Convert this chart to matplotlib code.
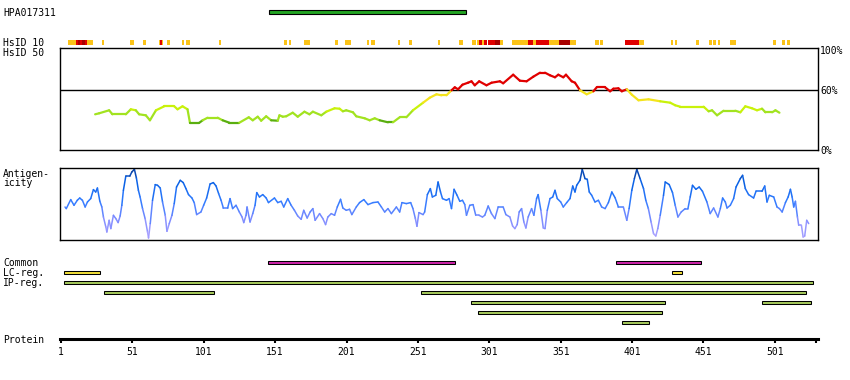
import numpy as np
import matplotlib
matplotlib.use('Agg')
import matplotlib.pyplot as plt
from matplotlib.collections import LineCollection
from matplotlib.colors import BoundaryNorm, ListedColormap, LinearSegmentedColormap, Normalize

plt.rcParams['font.family'] = ['DejaVu Sans Mono', 'DejaVu Sans']
plt.rcParams['font.size'] = 7

# ---- data (residue positions) ----
protein_len = 530
tick_pos = [1, 51, 101, 151, 201, 251, 301, 351, 401, 451, 501]

hpa_start, hpa_end = 147, 285

# HsID 10 identity strip: (start, end) per colour class
id10_yellow = [(5.9, 11.5), (19.2, 23.5), (29.8, 31.2), (49.4, 52.2), (58.5, 60.4), (69.8, 70.5),
               (71.9, 72.6), (75.4, 77.5), (85.9, 87.3), (88.7, 91.5), (111.9, 113.3), (157.5, 159.6),
               (161.0, 162.4), (171.5, 175.7), (192.6, 194.7), (199.6, 203.8), (215.0, 216.4),
               (217.8, 220.6), (236.8, 238.2), (244.5, 246.6), (264.9, 266.3), (279.6, 282.4),
               (288.7, 291.5), (292.2, 293.6), (295.7, 297.1), (308.4, 310.5), (316.8, 328.0),
               (331.5, 333.6), (342.8, 349.8), (357.5, 361.7), (375.0, 377.8), (378.5, 380.6),
               (405.9, 409.4), (428.4, 429.8), (431.2, 432.6), (445.9, 448.0), (455.0, 457.1),
               (457.8, 459.9), (461.4, 462.8), (469.8, 474.0), (500.0, 502.1), (506.3, 508.4),
               (509.8, 511.9)]
id10_red = [(11.5, 19.2), (70.5, 71.9), (293.6, 295.7), (297.1, 299.2), (299.9, 304.9),
            (328.0, 331.5), (333.6, 342.8), (396.1, 405.9)]
id10_dark = [(13.0, 14.0), (16.0, 17.5), (304.9, 308.4), (349.8, 357.5)]

# HsID 50 identity (%)
hsid50_pos = [24.9, 27.7, 34.7, 37.0, 46.4, 49.9, 53.4, 55.7, 60.4, 63.3, 67.5, 73.3, 80.3, 82.6,
              86.1, 89.6, 91.3, 97.9, 100.2, 103.7, 110.7, 114.2, 118.9, 125.9, 132.5, 135.3, 138.8,
              141.2, 144.7, 148.2, 152.8, 154.0, 156.3, 158.7, 163.3, 166.8, 171.5, 175.0, 177.4,
              183.3, 186.8, 192.6, 196.1, 198.4, 200.8, 205.5, 207.8, 213.7, 217.2, 220.7, 224.2,
              230.0, 233.5, 238.2, 242.9, 247.5, 254.6, 259.3, 264.0, 267.5, 271.0, 274.5, 276.8,
              279.1, 282.2, 286.1, 288.5, 290.8, 293.9, 299.0, 302.6, 308.4, 310.7, 317.7, 322.4,
              327.1, 331.8, 336.5, 340.0, 343.5, 347.0, 349.3, 352.8, 354.7, 358.7, 361.0, 364.5,
              369.2, 373.9, 376.2, 382.1, 385.6, 387.9, 391.4, 393.8, 397.3, 400.8, 405.5, 412.5,
              420.7, 427.7, 431.2, 434.7, 451.1, 454.6, 457.0, 460.5, 465.1, 473.3, 476.8, 480.3,
              485.0, 488.5, 492.0, 494.4, 499.1, 501.4, 504.2]
hsid50_val = [36, 37, 40, 36, 36, 41, 40, 36, 35, 30, 40, 44, 44, 41, 44, 41, 27.6, 27.6, 30, 32.6,
              32.6, 30, 27.6, 27.6, 33, 30, 33.6, 29.6, 34, 30, 29.6, 35, 33.6, 34, 37.6, 33.6, 38.6,
              36, 38.6, 35, 38.6, 42, 41.6, 39, 40, 38, 34, 32, 30, 32, 30, 28, 28, 33, 33, 40, 47.6,
              52.6, 56, 55, 55, 60, 63, 61, 65.6, 67.6, 69, 65, 69, 65, 67.6, 69, 67, 75.6, 69.6, 69,
              73.6, 77.6, 77.6, 75, 73, 75.6, 73, 75.6, 69, 67.6, 60, 56, 59, 63, 63, 59, 61.6, 62, 59,
              61, 55.6, 50, 51, 49, 47.6, 45, 43.6, 43.6, 39, 40, 35, 39.6, 39.6, 38, 44, 42, 40, 41.6,
              38, 38, 40, 37.6]

# antigenicity score
ant_pos = [3.8, 4.7, 7.8, 10.1, 12.4, 14.1, 16.0, 17.9, 19.5, 21.8,
           23.7, 25.3, 26.5, 28.2, 29.6, 30.7, 32.4, 33.1, 34.7, 35.9,
           37.7, 39.4, 41.0, 42.4, 43.6, 44.7, 46.4, 49.2, 50.6, 52.4,
           53.8, 55.2, 56.4, 58.1, 59.9, 61.6, 62.3, 63.5, 65.1, 67.0,
           68.6, 70.5, 72.1, 74.0, 75.2, 76.8, 78.7, 80.3, 81.9, 84.5,
           86.6, 88.5, 90.3, 92.7, 94.3, 96.0, 99.0, 100.9, 103.0, 105.4,
           107.7, 109.6, 111.4, 113.1, 114.7, 117.7, 119.4, 121.2, 123.6, 125.9,
           127.8, 129.0, 130.6, 131.3, 133.4, 135.3, 136.9, 138.1, 140.0, 142.3,
           144.7, 146.3, 150.5, 152.8, 155.2, 157.0, 159.8, 162.2, 164.5, 166.8,
           169.2, 171.0, 173.4, 175.5, 177.4, 179.0, 182.1, 184.4, 186.3, 187.9,
           190.3, 192.6, 194.5, 196.8, 198.4, 200.8, 203.1, 204.7, 207.8, 210.1,
           213.1, 216.0, 219.5, 223.0, 225.4, 227.7, 230.0, 232.4, 235.9, 238.2,
           239.8, 242.9, 245.9, 247.5, 249.2, 250.3, 251.7, 254.6, 255.7, 257.6,
           259.7, 261.1, 263.5, 265.1, 266.8, 268.2, 271.0, 272.8, 274.5, 276.3,
           278.4, 280.3, 282.2, 283.8, 285.0, 287.3, 289.6, 291.5, 293.8, 296.2,
           297.8, 300.2, 302.5, 304.9, 307.2, 310.7, 312.6, 315.4, 317.3, 318.9,
           320.5, 321.9, 323.6, 325.2, 326.6, 328.2, 330.6, 332.2, 334.1, 335.2,
           337.1, 338.8, 340.0, 341.6, 343.5, 345.4, 347.0, 348.6, 351.0, 352.8,
           355.2, 357.5, 359.4, 361.0, 362.2, 364.5, 366.1, 368.0, 369.6, 371.0,
           372.7, 375.0, 377.4, 379.7, 382.1, 384.4, 386.8, 389.1, 391.4, 394.9,
           397.3, 398.9, 400.8, 402.6, 404.3, 406.6, 409.0, 410.6, 412.4, 414.3,
           416.0, 417.6, 419.0, 420.7, 423.0, 424.2, 427.0, 429.3, 431.2, 433.1,
           435.4, 438.2, 440.1, 441.7, 443.3, 445.7, 448.0, 450.3, 453.4, 455.7,
           458.1, 461.1, 462.8, 464.4, 466.3, 467.5, 469.8, 472.1, 473.8, 476.8,
           478.4, 480.3, 482.6, 486.1, 487.8, 492.0, 493.9, 495.5, 497.1, 500.2,
           502.5, 504.2, 506.1, 508.4, 510.3, 511.9, 513.1, 514.2, 515.4, 516.8,
           517.7, 519.6, 520.8, 521.9, 523.3, 524.7]
ant_val = [33.3, 31.7, 40.7, 35, 40, 42.3, 40, 33.3, 38.3, 41.7,
           50.7, 48.3, 52.3, 39, 33.3, 23.3, 13.3, 8.3, 20, 11.7,
           25, 21.7, 17.7, 24.3, 35, 50, 64.3, 64.3, 68.3, 71,
           62.3, 50, 43.3, 31.7, 21.7, 8.3, 2.3, 16.7, 40, 55.7,
           55, 52.3, 38.3, 25, 9, 16.7, 25, 36.7, 53.3, 60,
           57.7, 51.7, 45.7, 42.3, 37.7, 25.7, 28.3, 35, 42.3, 56.3,
           57.7, 54.3, 46.7, 40, 32.3, 32.3, 41.7, 31.7, 35, 28.3,
           23.3, 17.7, 25, 33.3, 18.3, 26.7, 35, 47.7, 43.3, 45.7,
           42.3, 37.7, 42.3, 37.7, 39, 33.3, 41.7, 35, 30, 24.3,
           21, 30, 22.3, 28.3, 31.7, 20, 26.7, 21.7, 15.7, 23.3,
           26.7, 25, 33.3, 41, 32.3, 30, 31, 25.7, 33.3, 37.7,
           40.7, 35.7, 37.7, 38.3, 33.3, 28.3, 31.7, 26.7, 33.3, 28.3,
           37.7, 36.7, 37.7, 31.7, 21.7, 14, 27.7, 25.7, 28.3, 45.7,
           51.7, 43.3, 45, 58.3, 48.3, 41.7, 40, 41.7, 31.7, 51,
           45, 39, 40, 35.7, 25, 35, 35.7, 25, 25, 23.3,
           25, 34.3, 26.7, 21.7, 33.3, 33.3, 25.7, 23.3, 14.3, 11.7,
           15.7, 28.3, 31.7, 18.3, 12.3, 23.3, 31.7, 25, 41.7, 45.7,
           30, 12.3, 11.7, 30, 41.7, 43.3, 50, 41.7, 38.3, 33.3,
           37.7, 41.7, 54.3, 48.3, 55, 60, 71, 61.7, 61, 48.3,
           45, 38.3, 40, 33.3, 31.7, 37.7, 48.3, 42.5, 33.3, 33.3,
           20, 31.7, 50, 61.7, 71, 61.7, 51.7, 40, 31.7, 18.3,
           6.7, 4.3, 11.7, 25, 45, 58.3, 55.7, 47.7, 35, 23.3,
           28.3, 31.7, 31.7, 43.3, 55, 51, 53.3, 49, 38.3, 26.7,
           32.3, 23.3, 31.7, 42.3, 38.3, 32.3, 35, 41.7, 53.3, 61.7,
           65, 51.7, 45.7, 42.3, 49, 49, 54.3, 38.3, 45, 43.3,
           33.3, 31.7, 28.3, 37.7, 43.3, 51, 43.3, 33.3, 39, 23.3,
           15, 15, 3.3, 4.3, 20, 16.7]

# feature tracks
common_start = [146, 390]
common_end = [277, 449]
lc_start = [3, 429]
lc_end = [28, 436]
ip_start = [3, 31, 253, 288, 492, 293, 394]
ip_end = [528, 108, 523, 424, 526, 422, 413]
ip_row = [2, 3, 3, 4, 4, 5, 6]

# ---- layout ----
W, H = 850, 380
L0, R0 = 60.3, 817.7
XLIM = (0.5, 531)

fig = plt.figure(figsize=(W / 100, H / 100), dpi=100)
fig.patch.set_facecolor('white')


def add_ax(top, bottom):
    ax = fig.add_axes([L0 / W, 1 - bottom / H, (R0 - L0) / W, (bottom - top) / H])
    ax.set_xlim(*XLIM)
    ax.set_xticks([])
    ax.set_yticks([])
    return ax


def hide_spines(ax):
    for s in ax.spines.values():
        s.set_visible(False)


def colored_line(ax, x, y, cmap, norm, lw):
    x = np.asarray(x, float)
    y = np.asarray(y, float)
    pts = np.column_stack([x, y]).reshape(-1, 1, 2)
    segs = np.concatenate([pts[:-1], pts[1:]], axis=1)
    lc = LineCollection(segs, cmap=cmap, norm=norm, linewidths=lw, capstyle='round')
    lc.set_array((y[:-1] + y[1:]) / 2)
    ax.add_collection(lc)


def label(x, baseline, s, **kw):
    fig.text(x / W, 1 - baseline / H, s, va='baseline', ha='left', color='black', **kw)


# HPA antigen bar
ax = add_ax(8, 16)
hide_spines(ax)
ax.set_ylim(-1, 1)
ax.barh(0, hpa_end - hpa_start, left=hpa_start, height=0.8, color='#23a523',
        edgecolor='black', linewidth=0.8)

# HsID 10 strip
ax = add_ax(40, 45)
hide_spines(ax)
ax.set_ylim(0, 1)
for segs, col in [(id10_yellow, '#fbc318'), (id10_red, '#e00000'), (id10_dark, '#a80000')]:
    ax.broken_barh([(a, b - a) for a, b in segs], (0, 1), facecolors=col, linewidth=0)

# HsID 50 panel
ax = add_ax(48.3, 150.3)
ax.set_ylim(0, 102)
for s in ax.spines.values():
    s.set_linewidth(1.0)
ax.axhline(60, color='black', lw=1.0)
id_cmap = ListedColormap(['#5aae10', '#a2e320', '#c9f20a', '#f4e41c', '#e00000'])
id_norm = BoundaryNorm([0, 30, 40, 50, 60, 100], id_cmap.N)
colored_line(ax, hsid50_pos, hsid50_val, id_cmap, id_norm, 1.6)
ax.yaxis.tick_right()
ax.set_yticks([0, 60, 100])
ax.set_yticklabels(['0%', '60%', '100%'])
ax.tick_params(axis='y', length=0, pad=1.8, labelsize=7)

# antigenicity panel
ax = add_ax(168.3, 240.3)
ax.set_ylim(0, 72)
for s in ax.spines.values():
    s.set_linewidth(1.0)
ag_cmap = LinearSegmentedColormap.from_list(
    'ag', [(0, '#b9a9ff'), (0.3, '#7e8cff'), (0.55, '#2f7bff'), (0.8, '#0a62e6'), (1, '#0a3c98')])
colored_line(ax, ant_pos, ant_val, ag_cmap, Normalize(0, 72), 1.1)

# feature tracks
ax = add_ax(257.3, 327.3)
hide_spines(ax)
ax.set_ylim(6.5, -0.5)
bh = 0.33
ax.barh([0] * len(common_start), np.subtract(common_end, common_start), left=common_start,
        height=bh, color='#cc25aa', edgecolor='black', linewidth=0.75)
ax.barh([1] * len(lc_start), np.subtract(lc_end, lc_start), left=lc_start,
        height=bh, color='#f2e03a', edgecolor='black', linewidth=0.75)
ax.barh(ip_row, np.subtract(ip_end, ip_start), left=ip_start,
        height=bh, color='#a6c95c', edgecolor='black', linewidth=0.75)

# protein ruler
ax = fig.add_axes([L0 / W, 1 - 339.3 / H, (R0 - L0) / W, 4 / H])
ax.set_xlim(*XLIM)
for k in ['top', 'left', 'right']:
    ax.spines[k].set_visible(False)
ax.spines['bottom'].set_linewidth(2.2)
ax.set_yticks([])
ax.set_xticks(tick_pos + [protein_len])
ax.set_xticklabels([str(t) for t in tick_pos] + [''])
ax.tick_params(axis='x', direction='out', length=3.2, width=1.5, pad=2.5, labelsize=7)

# left labels
label(3, 16, 'HPA017311')
label(3, 45.5, 'HsID 10')
label(3, 56, 'HsID 50')
label(3, 176.5, 'Antigen-')
label(3, 185.5, 'icity')
label(3, 266, 'Common')
label(3, 276, 'LC-reg.')
label(3, 286, 'IP-reg.')
label(3, 342.7, 'Protein')

fig.savefig('out.png', dpi=100, facecolor='white')
